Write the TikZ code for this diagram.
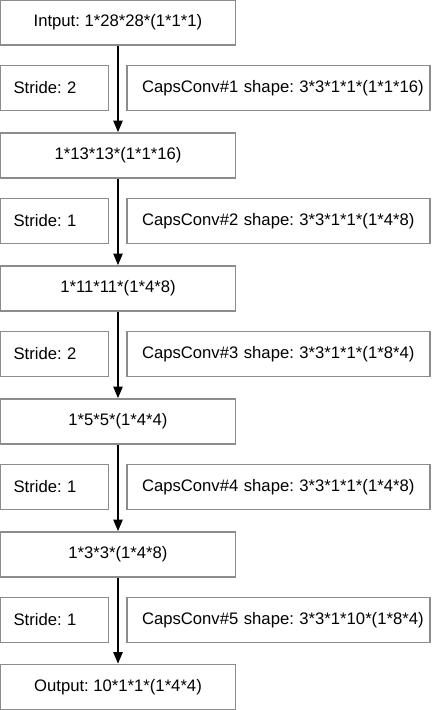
\documentclass[tikz,border=0pt]{standalone}
\usepackage{fontspec}
\setmainfont{Liberation Sans}
\frenchspacing
\usetikzlibrary{arrows.meta,positioning}

\tikzset{
  layerbox/.style={draw=gray!90,line width=0.9pt,inner sep=0pt,
    minimum width=141pt,minimum height=27pt,font=\fontsize{10}{12}\selectfont},
  stridebox/.style={draw=gray!90,line width=0.9pt,inner sep=0pt,
    text width=64.8pt,align=left,minimum height=27pt,
    execute at begin node=\hspace*{7.8pt},font=\fontsize{10}{12}\selectfont},
  convbox/.style={draw=gray!90,line width=0.9pt,inner sep=0pt,
    text width=181.8pt,align=left,minimum height=27pt,
    execute at begin node=\hspace*{9pt},font=\fontsize{10}{12}\selectfont},
  flow/.style={line width=1.2pt,-{Triangle[length=7pt,width=5.5pt]}}
}

\begin{document}
\begin{tikzpicture}[x=0.6pt,y=-0.6pt]
  \useasboundingbox (0,0) rectangle (442,710);
  % feature maps
  \node[layerbox] (in)   at (118,22.5)  {Intput: 1*28*28*(1*1*1)};
  \node[layerbox] (map1) at (118,155.5) {1*13*13*(1*1*16)};
  \node[layerbox] (map2) at (118,288.5) {1*11*11*(1*4*8)};
  \node[layerbox] (map3) at (118,421.5) {1*5*5*(1*4*4)};
  \node[layerbox] (map4) at (118,554.5) {1*3*3*(1*4*8)};
  \node[layerbox] (out)  at (118,687)   {Output: 10*1*1*(1*4*4)};
  % strides
  \node[stridebox] (s1) at (54.5,88)  {Stride: 2};
  \node[stridebox] (s2) at (54.5,221) {Stride: 1};
  \node[stridebox] (s3) at (54.5,354) {Stride: 2};
  \node[stridebox] (s4) at (54.5,487) {Stride: 1};
  \node[stridebox] (s5) at (54.5,620) {Stride: 1};
  % conv kernels
  \node[convbox] (c1) at (278.5,88)  {CapsConv\#1 shape: 3*3*1*1*(1*1*16)};
  \node[convbox] (c2) at (278.5,221) {CapsConv\#2 shape: 3*3*1*1*(1*4*8)};
  \node[convbox] (c3) at (278.5,354) {CapsConv\#3 shape: 3*3*1*1*(1*8*4)};
  \node[convbox] (c4) at (278.5,487) {CapsConv\#4 shape: 3*3*1*1*(1*4*8)};
  \node[convbox] (c5) at (278.5,620) {CapsConv\#5 shape: 3*3*1*10*(1*8*4)};
  % arrows
  \draw[flow] (in.south)   -- (map1.north);
  \draw[flow] (map1.south) -- (map2.north);
  \draw[flow] (map2.south) -- (map3.north);
  \draw[flow] (map3.south) -- (map4.north);
  \draw[flow] (map4.south) -- (out.north);
\end{tikzpicture}
\end{document}
